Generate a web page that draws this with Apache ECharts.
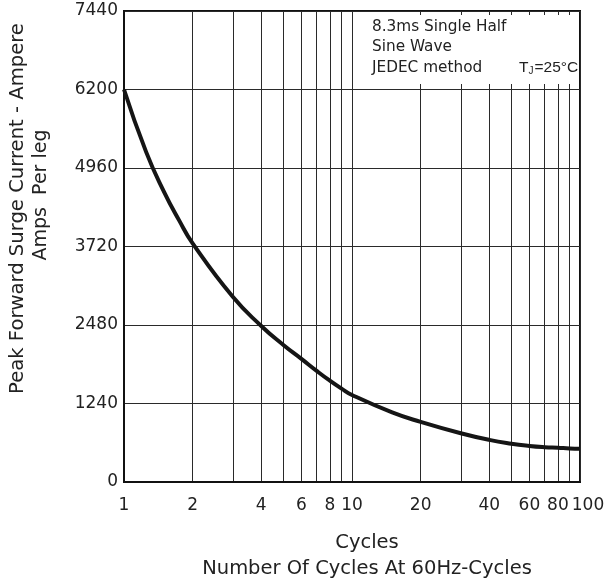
<!DOCTYPE html>
<html><head><meta charset="utf-8">
<script src="https://cdn.jsdelivr.net/npm/echarts@6/dist/echarts.min.js"></script>
<style>html,body{margin:0;padding:0;background:#fff}#c{width:608px;height:587px}</style>
</head><body><div id="c"></div>
<script>
// Data (x calibrated on the 1 / 10 / 100 decade lines)
const cycles = [1, 1.25, 1.5, 1.75, 2, 3, 4, 5, 6, 7, 8, 9, 10, 15, 20, 30, 40, 50, 60, 70, 80, 90, 100];
const currentAmps = [6200, 5215, 4580, 4125, 3770, 2925, 2465, 2165, 1945, 1755, 1600, 1475, 1375, 1100, 950, 770, 665, 605, 570, 550, 540, 530, 525];
const gridCycles = [1, 2, 3, 4, 5, 6, 7, 8, 9, 10, 20, 30, 40, 50, 60, 70, 80, 90, 100];
const labelCycles = [1, 2, 4, 6, 8, 10, 20, 40, 60, 80, 100];
const yMin = 0, yMax = 7440, yStep = 1240;
const noteLines = ['8.3ms Single Half', 'Sine Wave', 'JEDEC method'];
const FONT = 'DejaVu Sans';
const INK = '#222';

const chart = echarts.init(document.getElementById('c'), null, {renderer: 'canvas'});
chart.setOption({
  backgroundColor: '#fff',
  animation: false,
  grid: {left: 123, right: 28, top: 11, bottom: 98, show: true, borderColor: '#111', borderWidth: 2, backgroundColor: 'transparent'},
  xAxis: {
    type: 'log', logBase: 10, min: 1, max: 100,
    axisLine: {show: true, lineStyle: {color: '#111', width: 2}},
    axisTick: {show: false, customValues: gridCycles},
    splitLine: {show: true, lineStyle: {color: '#2a2a2a', width: 1}},
    axisLabel: {
      customValues: labelCycles, margin: 15, fontSize: 17, fontFamily: FONT, color: INK,
      formatter: v => (v === 100 ? '{last|100}' : String(v)),
      rich: {last: {fontSize: 17, fontFamily: FONT, color: INK, padding: [0, 0, 2, 16]}}
    },
    name: 'Cycles\nNumber Of Cycles At 60Hz-Cycles',
    nameLocation: 'middle', nameGap: 48,
    nameTextStyle: {fontSize: 19.5, lineHeight: 26, fontFamily: FONT, color: INK, padding: [0, 0, 0, 30]}
  },
  yAxis: {
    type: 'value', min: yMin, max: yMax, interval: yStep,
    axisLine: {show: true, lineStyle: {color: '#111', width: 2}},
    axisTick: {show: false},
    splitLine: {show: true, lineStyle: {color: '#2a2a2a', width: 1}},
    axisLabel: {margin: 6, fontSize: 17, fontFamily: FONT, color: INK, formatter: v => String(v)},
    name: 'Peak Forward Surge Current - Ampere',
    nameLocation: 'middle', nameGap: 96,
    nameTextStyle: {fontSize: 19.6, fontFamily: FONT, color: INK, padding: [0, 0, 0, 76]}
  },
  series: [{
    type: 'line',
    data: cycles.map((c, i) => [c, currentAmps[i]]),
    smooth: true, symbol: 'none',
    lineStyle: {color: '#151515', width: 4},
    z: 5
  }],
  graphic: [
    {type: 'text', x: 41, y: 195, rotation: Math.PI / 2,
     style: {text: 'Amps  Per leg', fontSize: 19, fontFamily: FONT, fill: INK, align: 'center', verticalAlign: 'middle'}},
    {type: 'rect', shape: {x: 365, y: 15, width: 213, height: 69}, style: {fill: '#fff'}, z: 50},
    {type: 'text', x: 372, y: 27, z: 51,
     style: {text: noteLines[0], fontSize: 15.3, fontFamily: FONT, fill: INK, verticalAlign: 'middle'}},
    {type: 'text', x: 372, y: 47, z: 51,
     style: {text: noteLines[1], fontSize: 15.3, fontFamily: FONT, fill: INK, verticalAlign: 'middle'}},
    {type: 'text', x: 372, y: 68, z: 51,
     style: {text: noteLines[2], fontSize: 15.3, fontFamily: FONT, fill: INK, verticalAlign: 'middle'}},
    {type: 'text', x: 519, y: 68, z: 51,
     style: {text: '{a|T}{b|J}{a|=25°C}', fill: INK, verticalAlign: 'middle',
       rich: {a: {fontSize: 15.5, fontFamily: 'Liberation Sans', fill: INK, verticalAlign: 'bottom'},
              b: {fontSize: 10, fontFamily: 'Liberation Sans', fill: INK, verticalAlign: 'bottom', padding: [0, 1, 0, 0]}}}}
  ]
});
</script></body></html>
